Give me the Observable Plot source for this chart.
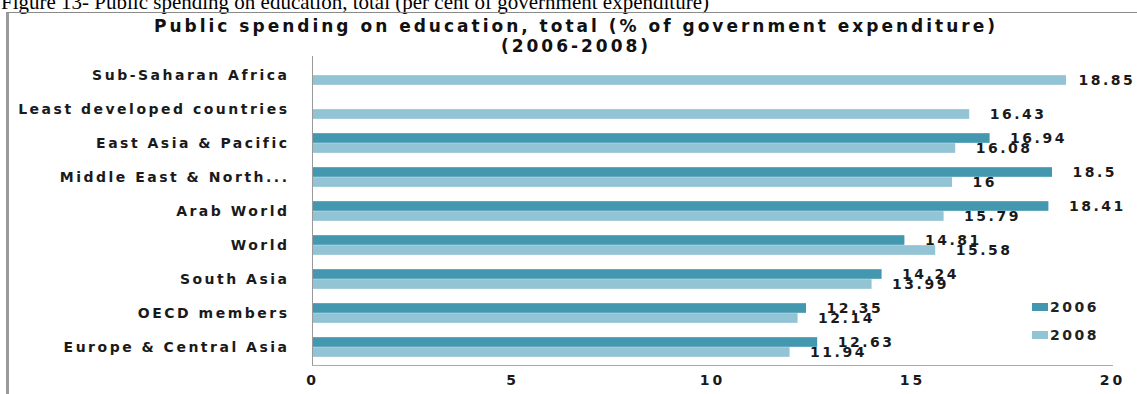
<!DOCTYPE html>
<html>
<head>
<meta charset="utf-8">
<script src="https://cdn.jsdelivr.net/npm/d3@7"></script>
<script src="https://cdn.jsdelivr.net/npm/@observablehq/plot@0.6"></script>
<style>
  html, body { margin: 0; padding: 0; background: #fff; }
  #wrap { position: relative; width: 1137px; height: 394px; overflow: hidden; }
  #caption { position: absolute; left: 1px; top: -8px; font-family: "Liberation Serif", serif; font-size: 21px; line-height: 21px; white-space: nowrap; color: #000; }
  #box { position: absolute; left: 6px; top: 12px; width: 1140px; height: 400px; border-left: 3px solid #9a9a9a; border-top: 1px solid #8a8a8a; }
  #title { position: absolute; left: 0; width: 1152px; top: 16px; text-align: center; font-family: "DejaVu Sans", sans-serif; font-weight: bold; font-size: 17px; line-height: 20px; letter-spacing: 3px; color: #111; }
  #chart { position: absolute; left: 0; top: 0; }
  #legend { position: absolute; left: 1032px; top: 293px; font-family: "DejaVu Sans", sans-serif; font-weight: bold; font-size: 14px; letter-spacing: 2.5px; color: #222; }
  #legend div { height: 28px; display: flex; align-items: center; }
  #legend span.sw { display: inline-block; width: 16px; height: 8px; margin-right: 2px; }
  g[aria-label="y-axis tick label"] text { letter-spacing: 2.5px; font-weight: bold; }
  g[aria-label="x-axis tick label"] text { letter-spacing: 3px; font-weight: bold; }
  g[aria-label="text"] text { letter-spacing: 2.5px; font-weight: bold; }
</style>
</head>
<body>
<div id="wrap">
  <div id="caption">Figure 13- Public spending on education, total (per cent of government expenditure)</div>
  <div id="box"></div>
  <div id="chart"></div>
  <div id="title">Public spending on education, total (% of government expenditure)<br>(2006-2008)</div>
  <div id="legend"></div>
</div>
<script>
const categories = ["Sub-Saharan Africa", "Least developed countries", "East Asia & Pacific", "Middle East & North...", "Arab World", "World", "South Asia", "OECD members", "Europe & Central Asia"];
const values2006 = [null, null, 16.94, 18.5, 18.41, 14.81, 14.24, 12.35, 12.63];
const values2008 = [18.85, 16.43, 16.08, 16, 15.79, 15.58, 13.99, 12.14, 11.94];
const seriesNames = ["2006", "2008"];
const seriesColors = ["#4398b0", "#93c4d6"];
const xTicks = [0, 5, 10, 15, 20];

const W = 1137, H = 394, mTop = 56, mBottom = 29, mLeft = 312, mRight = 25;
const step = (H - mTop - mBottom) / categories.length;
const barH = 10;

const d2006 = categories.map((c, i) => ({category: c, value: values2006[i]})).filter(d => d.value != null);
const d2008 = categories.map((c, i) => ({category: c, value: values2008[i]})).filter(d => d.value != null);

const labelX = d => Math.min(d.value + 0.5, 19.15);

const chart = Plot.plot({
  width: W, height: H,
  marginTop: mTop, marginBottom: mBottom, marginLeft: mLeft, marginRight: mRight,
  style: {fontFamily: "DejaVu Sans, sans-serif", color: "#1a1a1a", background: "transparent"},
  x: {domain: [0, 20], ticks: xTicks},
  y: {domain: categories, padding: 0, label: null},
  marks: [
    Plot.barX(d2006, {y: "category", x: "value", fill: seriesColors[0], insetTop: step / 2 - barH, insetBottom: step / 2}),
    Plot.barX(d2008, {y: "category", x: "value", fill: seriesColors[1], insetTop: step / 2, insetBottom: step / 2 - barH}),
    Plot.text(d2006, {y: "category", x: labelX, text: d => String(d.value), dy: -barH / 2, textAnchor: "start", fontSize: 14, fill: "#1a1a1a"}),
    Plot.text(d2008, {y: "category", x: labelX, text: d => String(d.value), dy: barH / 2, textAnchor: "start", fontSize: 14, fill: "#1a1a1a"}),
    Plot.ruleX([0], {stroke: "#999", strokeWidth: 1}),
    Plot.frame({anchor: "bottom", stroke: "#aaa"}),
    Plot.axisY({tickSize: 0, tickPadding: 23, fontSize: 14, label: null}),
    Plot.axisX({ticks: xTicks, tickSize: 0, tickPadding: 10, fontSize: 14, label: null, tickFormat: d => String(d)})
  ]
});
document.getElementById("chart").appendChild(chart);

const legend = document.getElementById("legend");
seriesNames.forEach((n, i) => {
  const row = document.createElement("div");
  const sw = document.createElement("span");
  sw.className = "sw";
  sw.style.background = seriesColors[i];
  row.appendChild(sw);
  row.appendChild(document.createTextNode(n));
  legend.appendChild(row);
});
</script>
</body>
</html>
